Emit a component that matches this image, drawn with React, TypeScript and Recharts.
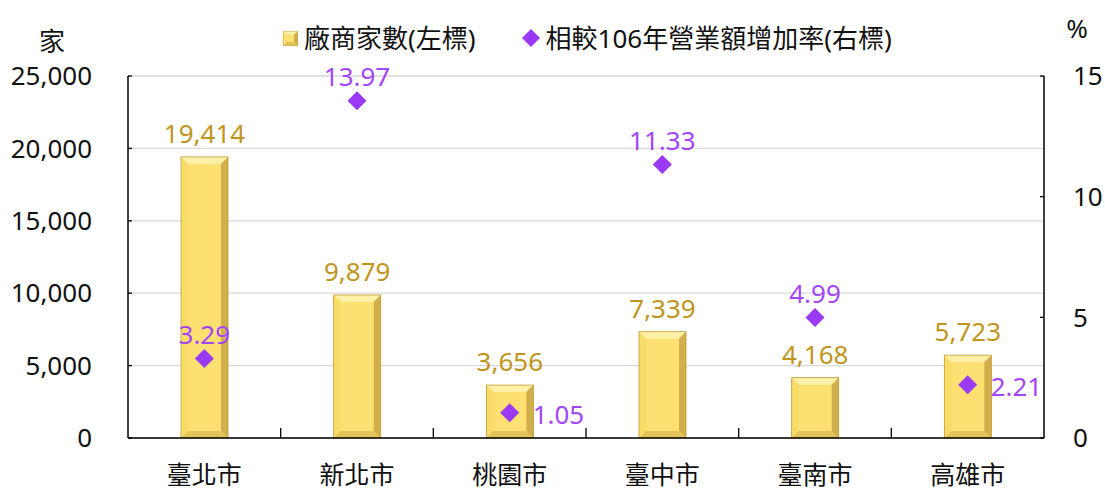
import React from 'react';
import { ComposedChart, Bar, Line, XAxis, YAxis, CartesianGrid, LabelList } from 'recharts';

// 縣市別
const cities = ['臺北市', '新北市', '桃園市', '臺中市', '臺南市', '高雄市'];
// 廠商家數(左標)
const firmCounts = [19414, 9879, 3656, 7339, 4168, 5723];
// 相較106年營業額增加率(右標), %
const growthRates = [3.29, 13.97, 1.05, 11.33, 4.99, 2.21];

const leftTicks = [0, 5000, 10000, 15000, 20000, 25000];
const rightTicks = [0, 5, 10, 15];
// these rate labels sit to the right of the marker instead of above it
const rightSideLabels = [2, 5];

const W = 1105;
const H = 493;
const LEFT_AXIS_W = 128;
const RIGHT_AXIS_W = 61;
const TOP = 76;
const X_AXIS_H = 55;
const PLOT_W = W - LEFT_AXIS_W - RIGHT_AXIS_W;

const FONT = "'Noto Sans', 'Noto Sans CJK TC', sans-serif";
const FS = 26;

const colors = {
  text: '#111',
  axis: '#000',
  grid: '#D9D9D9',
  barLabel: '#BF9520',
  diamond: '#9A3AF6',
  rateLabel: '#A346F8',
  face: '#FCE172',
  bevelTop: '#FFF0A8',
  bevelLeft: '#F8DC68',
  bevelRight: '#D1AF4A',
  bevelBottom: '#E2C35A',
  barStroke: '#BE9C3A',
};

const data = cities.map((city, i) => ({
  city,
  firms: firmCounts[i],
  rate: growthRates[i],
}));

// beveled gold bar, like the Excel "cool slant" style
function BevelBar(props: any) {
  const { x, y, width: w, height: h } = props;
  if (!h || h <= 0) return null;
  const b = Math.min(7, h / 2, w / 2);
  return (
    <g>
      <rect x={x} y={y} width={w} height={h} fill={colors.face} />
      <polygon
        points={`${x},${y} ${x + w},${y} ${x + w - b},${y + b} ${x + b},${y + b}`}
        fill={colors.bevelTop}
      />
      <polygon
        points={`${x},${y} ${x + b},${y + b} ${x + b},${y + h - b} ${x},${y + h}`}
        fill={colors.bevelLeft}
      />
      <polygon
        points={`${x + w},${y} ${x + w},${y + h} ${x + w - b},${y + h - b} ${x + w - b},${y + b}`}
        fill={colors.bevelRight}
      />
      <polygon
        points={`${x},${y + h} ${x + b},${y + h - b} ${x + w - b},${y + h - b} ${x + w},${y + h}`}
        fill={colors.bevelBottom}
      />
      <rect x={x} y={y} width={w} height={h} fill="none" stroke={colors.barStroke} strokeWidth={0.8} />
    </g>
  );
}

function Diamond(props: any) {
  const { cx, cy, index } = props;
  if (cx == null || cy == null) return null;
  const r = 9.5;
  return (
    <path
      key={`d-${index}`}
      d={`M${cx},${cy - r} L${cx + r},${cy} L${cx},${cy + r} L${cx - r},${cy} Z`}
      fill={colors.diamond}
    />
  );
}

function RateLabel(props: any) {
  const { x, y, value, index } = props;
  const side = rightSideLabels.includes(index);
  return (
    <text
      x={side ? x + 23 : x}
      y={side ? y + 1 : y - 25}
      textAnchor={side ? 'start' : 'middle'}
      dominantBaseline="central"
      fill={colors.rateLabel}
      fontSize={FS}
      fontFamily={FONT}
    >
      {Number(value).toFixed(2)}
    </text>
  );
}

function CityTick(props: any) {
  const { x, y, payload, index } = props;
  const step = PLOT_W / cities.length;
  return (
    <g>
      {index < cities.length - 1 && (
        <line x1={x + step / 2} x2={x + step / 2} y1={y} y2={y - 10} stroke={colors.axis} strokeWidth={1.3} />
      )}
      <text
        x={x}
        y={y + 36}
        textAnchor="middle"
        dominantBaseline="central"
        fill={colors.text}
        fontSize={25}
        fontFamily={FONT}
      >
        {payload.value}
      </text>
    </g>
  );
}

function LegendIconSquare() {
  return (
    <svg width={15} height={15} style={{ display: 'block' }}>
      <rect x={0} y={0} width={15} height={15} fill={colors.face} />
      <polygon points="0,0 15,0 11,4 4,4" fill={colors.bevelTop} />
      <polygon points="15,0 15,15 11,11 11,4" fill={colors.bevelRight} />
      <polygon points="0,15 4,11 11,11 15,15" fill={colors.bevelBottom} />
      <rect x={0} y={0} width={15} height={15} fill="none" stroke={colors.barStroke} strokeWidth={0.8} />
    </svg>
  );
}

function LegendIconDiamond() {
  return (
    <svg width={18} height={18} style={{ display: 'block' }}>
      <path d="M9,0 L18,9 L9,18 L0,9 Z" fill={colors.diamond} />
    </svg>
  );
}

function ChartLegend() {
  const item: React.CSSProperties = { display: 'flex', alignItems: 'center', gap: 6 };
  return (
    <div
      style={{
        position: 'absolute',
        left: 283,
        top: 20,
        display: 'flex',
        alignItems: 'center',
        gap: 46,
        fontFamily: FONT,
        fontSize: FS,
        lineHeight: '36px',
        color: colors.text,
        whiteSpace: 'nowrap',
      }}
    >
      <div style={item}>
        <LegendIconSquare />
        <span>廠商家數(左標)</span>
      </div>
      <div style={item}>
        <LegendIconDiamond />
        <span>相較106年營業額增加率(右標)</span>
      </div>
    </div>
  );
}

export default function App() {
  const tickStyle = { fill: colors.text, fontSize: FS, fontFamily: FONT };

  return (
    <div style={{ position: 'absolute', left: 0, top: 0, width: W, height: H, background: '#fff' }}>
      <ComposedChart
        width={W}
        height={H}
        data={data}
        margin={{ top: TOP, right: 0, bottom: 0, left: 0 }}
      >
        <CartesianGrid yAxisId="left" vertical={false} stroke={colors.grid} strokeWidth={1.3} />
        <XAxis
          dataKey="city"
          height={X_AXIS_H}
          interval={0}
          axisLine={{ stroke: colors.axis, strokeWidth: 1.5 }}
          tickLine={false}
          tickSize={0}
          tickMargin={0}
          tick={<CityTick />}
        />
        <YAxis
          yAxisId="left"
          orientation="left"
          width={LEFT_AXIS_W}
          domain={[0, 25000]}
          ticks={leftTicks}
          tickFormatter={(v: number) => v.toLocaleString('en-US')}
          axisLine={{ stroke: colors.axis, strokeWidth: 1.5 }}
          tickLine={{ stroke: colors.axis, strokeWidth: 1.3 }}
          tickSize={-4}
          tickMargin={40}
          tick={tickStyle}
          label={{
            content: (p: any) => (
              <text
                x={p.viewBox.x + 52}
                y={p.viewBox.y - 35}
                textAnchor="middle"
                dominantBaseline="central"
                fill={colors.text}
                fontSize={FS}
                fontFamily={FONT}
              >
                家
              </text>
            ),
          }}
        />
        <YAxis
          yAxisId="right"
          orientation="right"
          width={RIGHT_AXIS_W}
          domain={[0, 15]}
          ticks={rightTicks}
          axisLine={{ stroke: colors.axis, strokeWidth: 1.5 }}
          tickLine={{ stroke: colors.axis, strokeWidth: 1.3 }}
          tickSize={-4}
          tickMargin={33}
          tick={tickStyle}
          label={{
            content: (p: any) => (
              <text
                x={p.viewBox.x + 33}
                y={p.viewBox.y - 48}
                textAnchor="middle"
                dominantBaseline="central"
                fill={colors.text}
                fontSize={FS}
                fontFamily={FONT}
              >
                %
              </text>
            ),
          }}
        />
        <Bar
          yAxisId="left"
          dataKey="firms"
          barSize={47}
          shape={<BevelBar />}
          isAnimationActive={false}
        >
          <LabelList
            dataKey="firms"
            position="top"
            offset={14}
            formatter={(v: any) => Number(v).toLocaleString('en-US')}
            fill={colors.barLabel}
            fontSize={FS}
            fontFamily={FONT}
          />
        </Bar>
        <Line
          yAxisId="right"
          dataKey="rate"
          stroke="none"
          dot={(p: any) => <Diamond key={`dot-${p.index}`} {...p} />}
          activeDot={false}
          isAnimationActive={false}
        >
          <LabelList dataKey="rate" content={<RateLabel />} />
        </Line>
      </ComposedChart>
      <ChartLegend />
    </div>
  );
}
